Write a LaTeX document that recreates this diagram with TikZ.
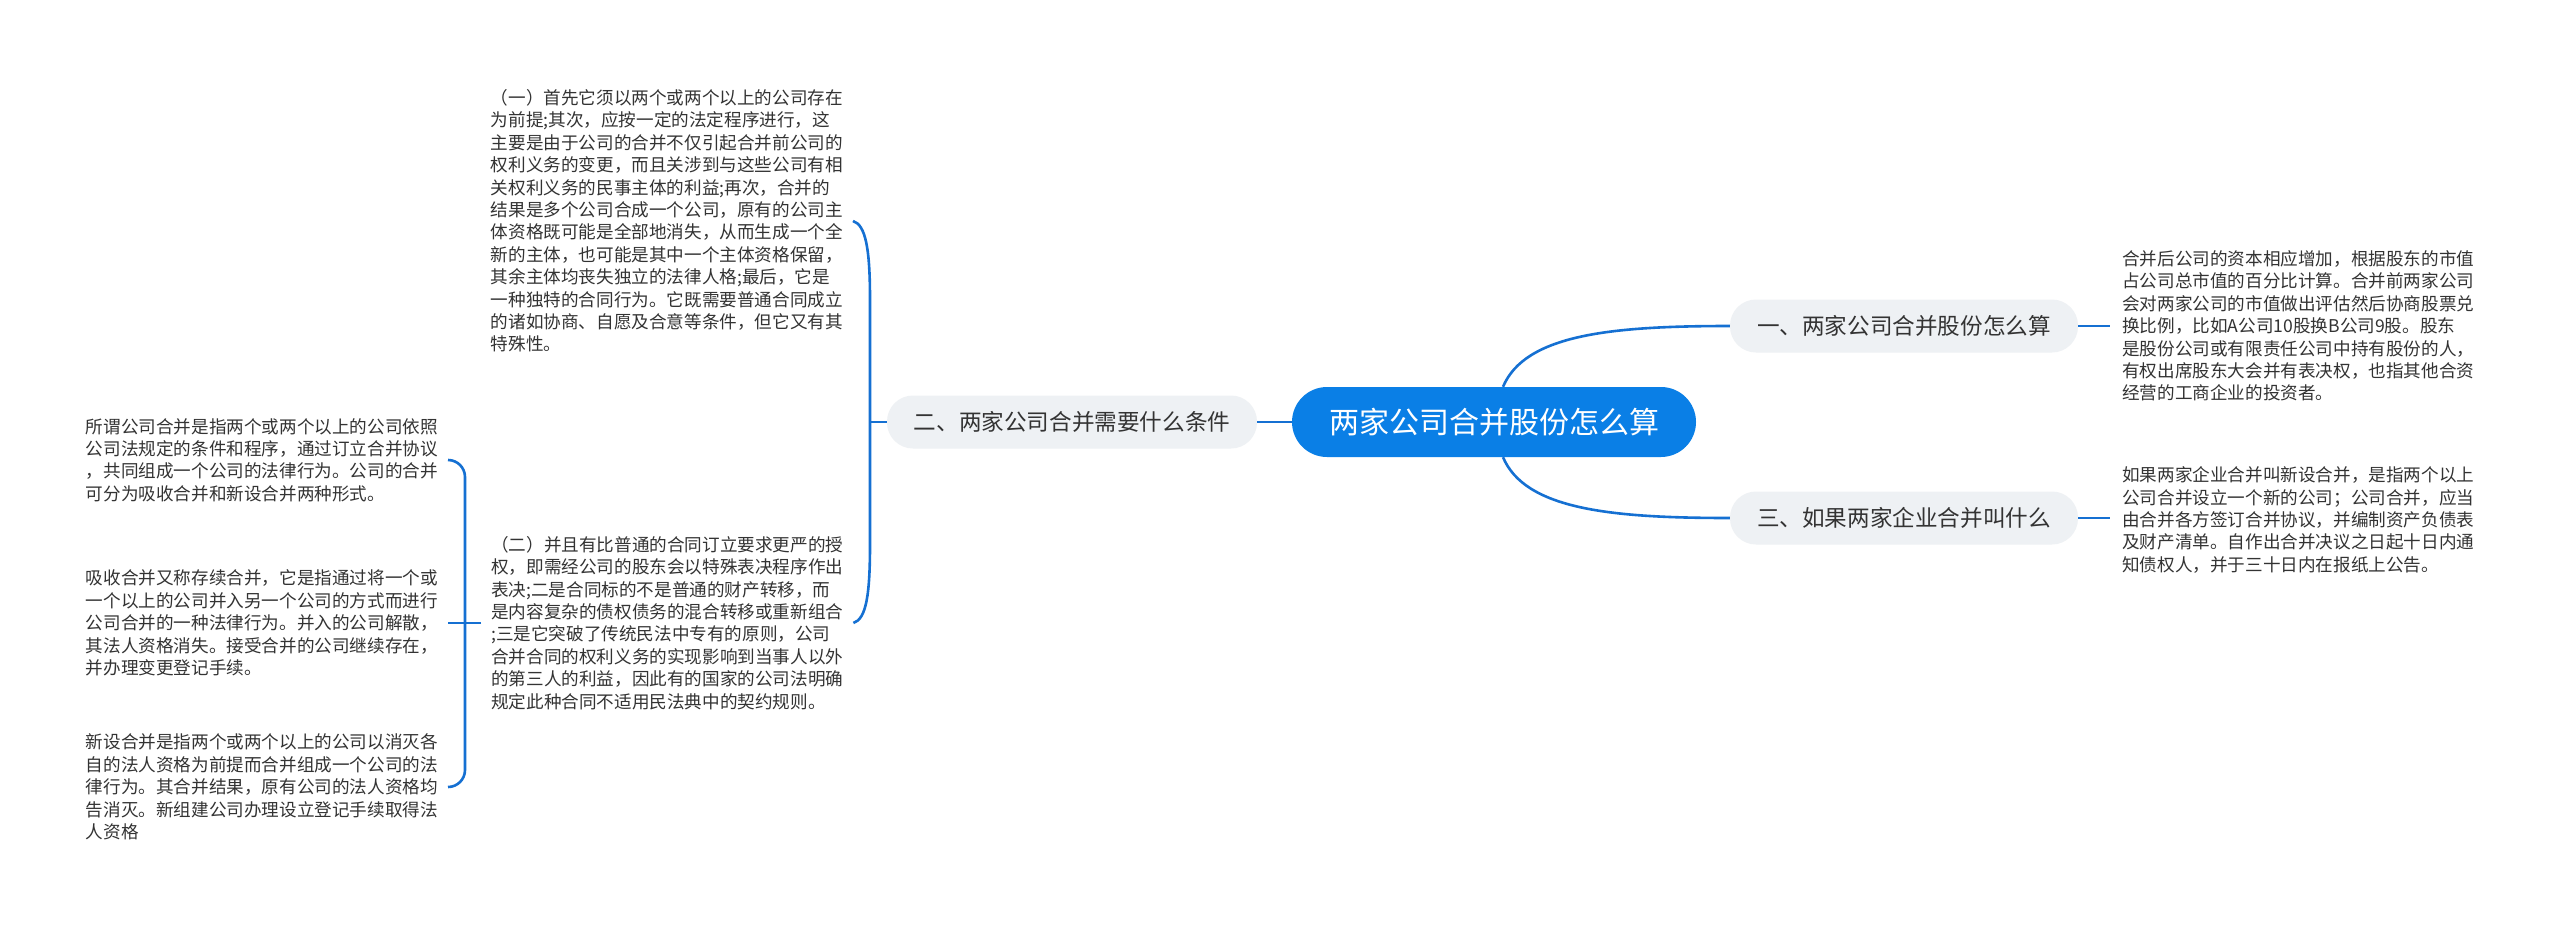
\documentclass[tikz,border=0pt]{standalone}
\usepackage{fontspec}
\newfontfamily\cjk{Noto Sans CJK SC}
\definecolor{rootblue}{HTML}{0A7FE6}
\definecolor{linkblue}{HTML}{1570D2}
\definecolor{branchgray}{HTML}{EEF1F4}
\definecolor{txt}{HTML}{333333}
\begin{document}
\begin{tikzpicture}[x=1pt,y=-1pt,
 rootnode/.style={fill=rootblue, text=white, rounded corners=35pt, minimum width=404pt, minimum height=70pt, font=\cjk\fontsize{30}{36}\selectfont, inner sep=0pt},
 branch/.style={fill=branchgray, text=txt, rounded corners=26pt, minimum height=53pt, font=\cjk\fontsize{22.6}{28}\selectfont, inner sep=0pt},
 leaf/.style={text=txt, align=left, inner ysep=0pt, font=\cjk\fontsize{17.6}{22.4}\selectfont},
 link/.style={draw=linkblue, line width=2.6pt}
]
\fill[white] (0,0) rectangle (2560,929);
\useasboundingbox (0,0) rectangle (2560,929);

\node[rootnode] (root) at (1494,422) {两家公司合并股份怎么算};
\node[branch, minimum width=370pt] (b2) at (1072,422) {二、两家公司合并需要什么条件};
\node[branch, minimum width=348pt] (b1) at (1904,326) {一、两家公司合并股份怎么算};
\node[branch, minimum width=348pt] (b3) at (1904,518) {三、如果两家企业合并叫什么};

\node[leaf, anchor=west, inner xsep=12pt] (r1) at (2110,326) {合并后公司的资本相应增加，根据股东的市值\\占公司总市值的百分比计算。合并前两家公司\\会对两家公司的市值做出评估然后协商股票兑\\换比例，比如A公司10股换B公司9股。股东\\是股份公司或有限责任公司中持有股份的人，\\有权出席股东大会并有表决权，也指其他合资\\经营的工商企业的投资者。};
\node[leaf, anchor=west, inner xsep=12pt] (r2) at (2110,520) {如果两家企业合并叫新设合并，是指两个以上\\公司合并设立一个新的公司；公司合并，应当\\由合并各方签订合并协议，并编制资产负债表\\及财产清单。自作出合并决议之日起十日内通\\知债权人，并于三十日内在报纸上公告。};

\node[leaf, anchor=east, inner xsep=10pt] (tA) at (853,221) {（一）首先它须以两个或两个以上的公司存在\\为前提;其次，应按一定的法定程序进行，这\\主要是由于公司的合并不仅引起合并前公司的\\权利义务的变更，而且关涉到与这些公司有相\\关权利义务的民事主体的利益;再次，合并的\\结果是多个公司合成一个公司，原有的公司主\\体资格既可能是全部地消失，从而生成一个全\\新的主体，也可能是其中一个主体资格保留，\\其余主体均丧失独立的法律人格;最后，它是\\一种独特的合同行为。它既需要普通合同成立\\的诸如协商、自愿及合意等条件，但它又有其\\特殊性。};
\node[leaf, anchor=west, inner xsep=10pt] (tB) at (481,623) {（二）并且有比普通的合同订立要求更严的授\\权，即需经公司的股东会以特殊表决程序作出\\表决;二是合同标的不是普通的财产转移，而\\是内容复杂的债权债务的混合转移或重新组合\\;三是它突破了传统民法中专有的原则，公司\\合并合同的权利义务的实现影响到当事人以外\\的第三人的利益，因此有的国家的公司法明确\\规定此种合同不适用民法典中的契约规则。};

\node[leaf, anchor=east, inner xsep=10pt] (L1) at (448,460) {所谓公司合并是指两个或两个以上的公司依照\\公司法规定的条件和程序，通过订立合并协议\\，共同组成一个公司的法律行为。公司的合并\\可分为吸收合并和新设合并两种形式。};
\node[leaf, anchor=east, inner xsep=10pt] (L2) at (448,623) {吸收合并又称存续合并，它是指通过将一个或\\一个以上的公司并入另一个公司的方式而进行\\公司合并的一种法律行为。并入的公司解散，\\其法人资格消失。接受合并的公司继续存在，\\并办理变更登记手续。};
\node[leaf, anchor=east, inner xsep=10pt] (L3) at (448,787) {新设合并是指两个或两个以上的公司以消灭各\\自的法人资格为前提而合并组成一个公司的法\\律行为。其合并结果，原有公司的法人资格均\\告消灭。新组建公司办理设立登记手续取得法\\人资格};

\draw[link] (root.west) -- (b2.east);
\draw[link] ([xshift=9pt]root.north) .. controls +(22,-52) and +(-120,0) .. (b1.west);
\draw[link] ([xshift=9pt]root.south) .. controls +(22,52) and +(-120,0) .. (b3.west);
\draw[link] (b1.east) -- (b1.east -| r1.west);
\draw[link] (b3.east) -- (b3.east -| r2.west);

\coordinate (j2) at (870,422);
\draw[link] (b2.west) -- (j2);
\draw[link] (tA.east) .. controls +(13,4) and +(0,-50) .. (870,300) -- (870,544) .. controls +(0,50) and +(13,-4) .. (tB.east);

\coordinate (j3) at (465,623);
\draw[link] (tB.west) -- (j3);
\draw[link, rounded corners=17pt] (L1.east) -| (j3) |- (L3.east);
\draw[link] (L2.east) -- (j3);
\end{tikzpicture}
\end{document}
